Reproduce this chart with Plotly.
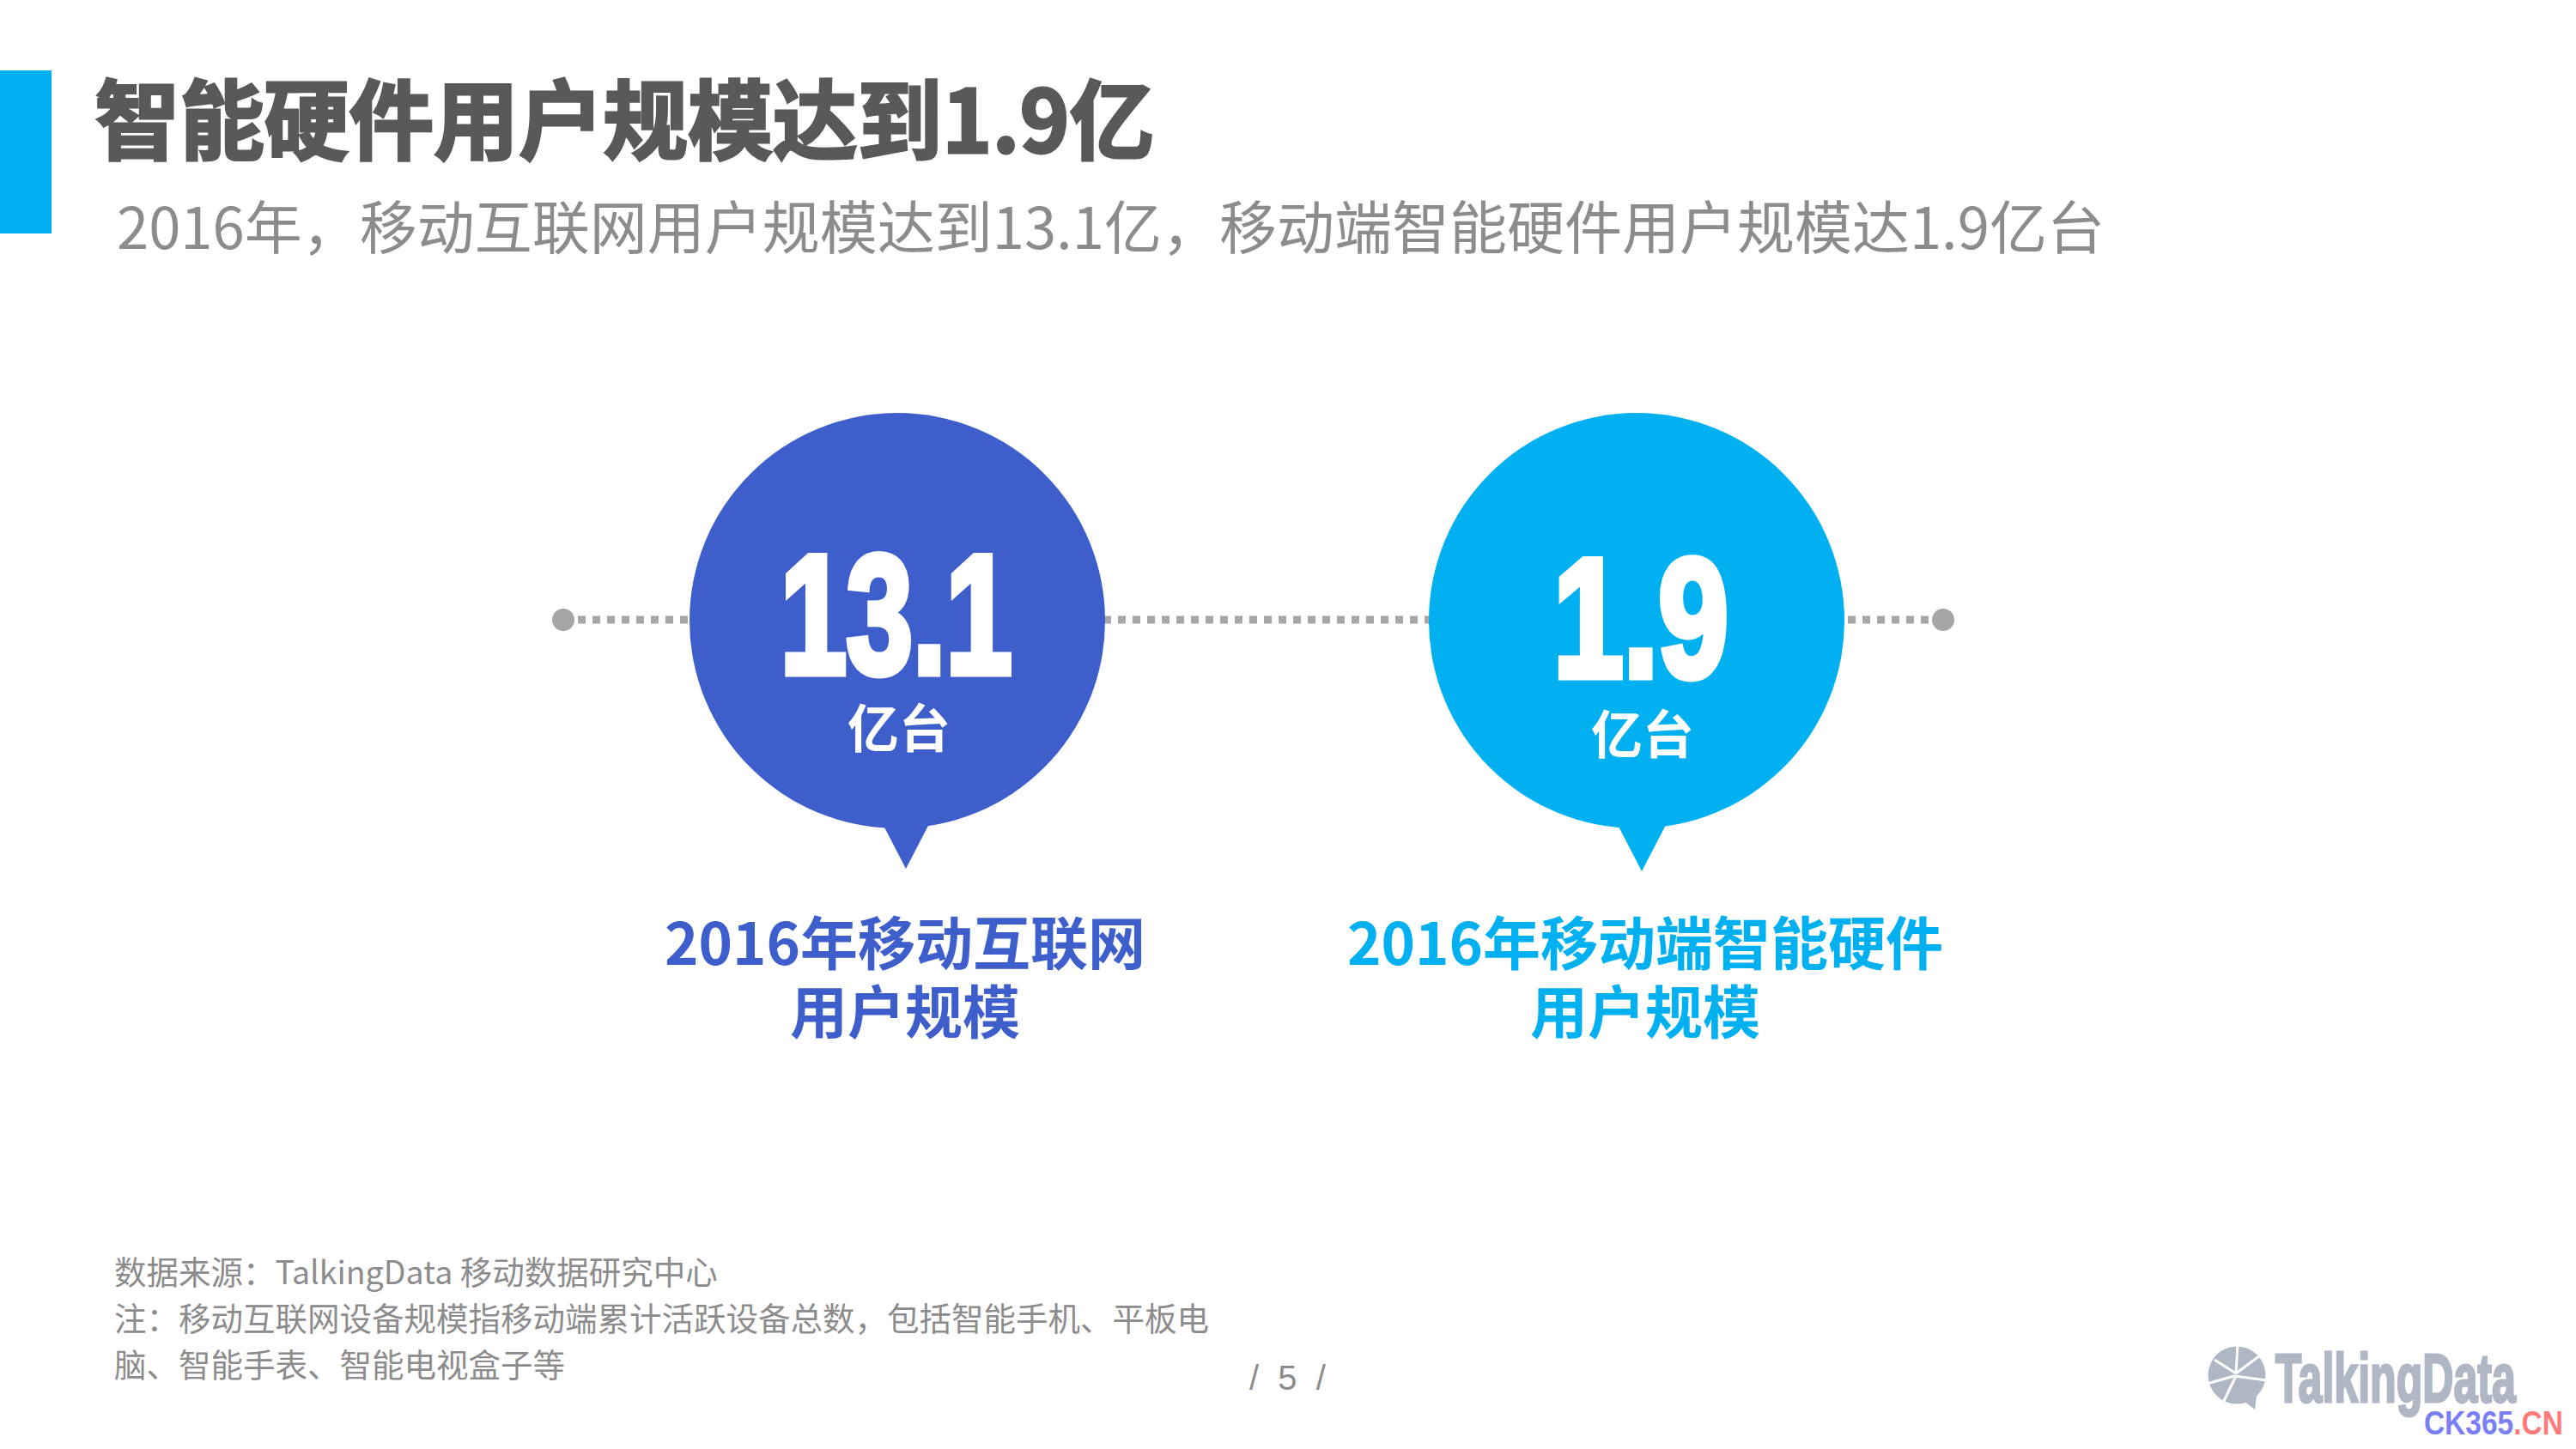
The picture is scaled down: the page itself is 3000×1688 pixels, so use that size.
import json
import plotly.graph_objects as go

# values and texts
values = ["13.1", "1.9"]
unit = "亿台"
labels_top = ["2016年移动互联网", "2016年移动端智能硬件"]
labels_bottom = ["用户规模", "用户规模"]
colors = ["#3d5ecb", "#00b0f0"]
title = "智能硬件用户规模达到1.9亿"
subtitle = "2016年，移动互联网用户规模达到13.1亿，移动端智能硬件用户规模达1.9亿台"
notes = [
    "数据来源：TalkingData 移动数据研究中心",
    "注：移动互联网设备规模指移动端累计活跃设备总数，包括智能手机、平板电",
    "脑、智能手表、智能电视盒子等",
]
page = "/  5  /"

# slide layout in pixels
W, H = 3000, 1688
CJK = "Noto Sans CJK SC"
SANS = "Liberation Sans"
GREY = "#a6a6a6"
LOGO = "#b0b7c4"
circle_x = [1045, 1906]
circle_y = 723
circle_size = 484
value_pos = [(1043, 716), (1911, 720)]
value_width = [270, 204]
unit_pos = [(1047, 844), (1913, 851)]
label_x = [1054, 1916]
tips = [(1055, 1012), (1912, 1015)]

fig = go.Figure()

# dotted line behind the circles
fig.add_trace(go.Scatter(x=[656, 2263], y=[722, 722], mode="lines",
                         line=dict(color=GREY, width=9, dash="9px,8px"), hoverinfo="skip"))
fig.add_trace(go.Scatter(x=[656, 2263], y=[722, 722], mode="markers",
                         marker=dict(color=GREY, size=26), hoverinfo="skip"))
# the two bubbles
fig.add_trace(go.Scatter(x=circle_x, y=[circle_y] * 2, mode="markers",
                         marker=dict(color=colors, size=circle_size, line=dict(width=0)),
                         hoverinfo="skip"))
# logo icon body
fig.add_trace(go.Scatter(x=[2605], y=[1602], mode="markers",
                         marker=dict(color=LOGO, size=67), hoverinfo="skip"))

shapes = [dict(type="rect", x0=0, x1=60, y0=82, y1=272, fillcolor="#00b0f0", line_width=0)]
for (tx, ty), col in zip(tips, colors):
    shapes.append(dict(type="path", path=f"M {tx-28} {ty-54} L {tx+28} {ty-54} L {tx} {ty} Z",
                       fillcolor=col, line_width=0))

# logo icon tail and slice cuts
shapes.append(dict(type="path", path="M 2613 1632 L 2628 1626 L 2626 1642 Z", fillcolor=LOGO, line_width=0))
for x0, y0, x1, y1 in [(2604, 1600, 2606, 1566), (2604, 1600, 2632, 1579), (2604, 1600, 2579, 1584),
                       (2602, 1603, 2570, 1612), (2602, 1603, 2640, 1608), (2604, 1603, 2588, 1636)]:
    shapes.append(dict(type="line", x0=x0, y0=y0, x1=x1, y1=y1, layer="above",
                       line=dict(color="white", width=3)))


def note(text, x, y, size, color, family=CJK, xanchor="left"):
    fig.add_annotation(x=x, y=y, text=text, showarrow=False, xanchor=xanchor, yanchor="middle",
                       font=dict(family=family, size=size, color=color))


title_html = f"<b>{title}</b>"
note(title_html, 727, 134, 101, "#595959", xanchor="center")
note(subtitle, 134, 260, 67, "#8c8c8c")

for val, (vx, vy), (ux, uy), top, bottom, lx, col in zip(values, value_pos, unit_pos, labels_top,
                                                         labels_bottom, label_x, colors):
    note(f"<b>{val}</b>", vx, vy, 197, "white", family=SANS, xanchor="center")
    note(f"<b>{unit}</b>", ux, uy, 60, "white", xanchor="center")
    note(f"<b>{top}</b>", lx, 1094, 67, col, xanchor="center")
    note(f"<b>{bottom}</b>", lx, 1174, 67, col, xanchor="center")

for txt, ny in zip(notes, [1479, 1533, 1587]):
    note(txt, 131, ny, 37.5, "#8c8c8c")
note(page, 1500, 1605, 40, "#8c8c8c", family=SANS, xanchor="center")

# logo text
logo_text = "<b>TalkingData</b>"
note(logo_text, 2790, 1605, 80, LOGO, family=SANS, xanchor="center")
mark_text = '<b><span style="color:#7b7ff5">CK365</span><span style="color:#ff7a7a">.CN</span></b>'
note(mark_text, 2904, 1658, 38, "#7b7ff5", family=SANS, xanchor="center")

fig.update_layout(
    width=W, height=H, margin=dict(l=0, r=0, t=0, b=0), showlegend=False,
    paper_bgcolor="white", plot_bgcolor="white", shapes=shapes,
    xaxis=dict(range=[0, W], visible=False, fixedrange=True),
    yaxis=dict(range=[H, 0], visible=False, fixedrange=True),
)

# the slide uses condensed display fonts, plotly has no font-stretch so squeeze those texts
# text -> [width, stroke width, stroke colour]
squeeze = {
    title_html: [1234, 3, "#595959"],
    f"<b>{values[0]}</b>": [value_width[0], 9, "white"],
    f"<b>{values[1]}</b>": [value_width[1], 9, "white"],
    logo_text: [280, 3, LOGO],
    mark_text: [162, 0, ""],
}
post = """
document.body.style.margin = '0';
var squeeze = %s;
document.querySelectorAll('.annotation-text').forEach(function (t) {
    var s = squeeze[t.getAttribute('data-unformatted')];
    if (!s) return;
    t.setAttribute('textLength', s[0]);
    t.setAttribute('lengthAdjust', 'spacingAndGlyphs');
    if (s[1]) { t.style.stroke = s[2]; t.style.strokeWidth = s[1] + 'px'; }
});
""" % json.dumps(squeeze)
fig.write_html("out.html", post_script=post, config={"displayModeBar": False})
